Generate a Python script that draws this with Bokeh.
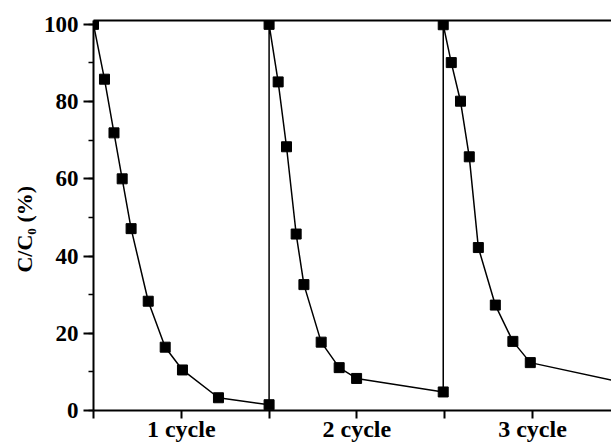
from bokeh.plotting import figure
from bokeh.models import Range1d, LinearAxis, FixedTicker, SingleIntervalTicker
from bokeh.embed import file_html
from bokeh.resources import INLINE

# time (min) and C/C0 (%) for each cycle
cycle1_t = [0, 7.5, 14, 19.6, 25.7, 37.4, 49, 60.8, 85.4, 120]
cycle1_c = [100, 85.8, 71.9, 60.0, 47.1, 28.3, 16.4, 10.5, 3.3, 1.5]
cycle2_t = [120, 126.2, 131.9, 138.5, 143.8, 155.6, 167.9, 179.8, 239]
cycle2_c = [100, 85.1, 68.3, 45.7, 32.6, 17.7, 11.1, 8.3, 4.8]
cycle3_t = [239, 244.5, 250.8, 256.8, 263, 274.6, 286.6, 298.5, 360]
cycle3_c = [99.9, 90.1, 80.1, 65.7, 42.2, 27.3, 17.9, 12.4, 7.4]

x_ticks = [0, 60, 120, 180, 240, 300]
x_tick_labels = {0: "", 60: "1 cycle", 120: "", 180: "2 cycle", 240: "", 300: "3 cycle"}
y_label = "C/C\u2080 (%)"

FONT = "Liberation Serif"

p = figure(width=611, height=444, output_backend="svg", toolbar_location=None,
           x_range=Range1d(0, 354), y_range=Range1d(0, 101),
           min_border_left=93, min_border_right=0, min_border_top=20, min_border_bottom=33)
p.outline_line_color = None
p.grid.visible = False
p.background_fill_color = "white"
p.border_fill_color = "white"

t_all = cycle1_t + cycle2_t + cycle3_t
c_all = cycle1_c + cycle2_c + cycle3_c
p.line(t_all, c_all, line_color="black", line_width=1.5)
p.scatter(t_all, c_all, marker="square", size=10, fill_color="black", line_color="black")

# x axis
xa = p.xaxis[0]
xa.ticker = FixedTicker(ticks=x_ticks)
xa.major_label_overrides = x_tick_labels
xa.axis_line_width = 2
xa.major_tick_line_width = 2
xa.major_tick_out = 8
xa.major_tick_in = 0
xa.minor_tick_line_color = None
xa.major_label_standoff = -3
xa.major_label_text_font = FONT
xa.major_label_text_font_style = "bold"
xa.major_label_text_font_size = "24px"
xa.major_label_text_color = "black"

# y axis
ya = p.yaxis[0]
ya.ticker = SingleIntervalTicker(interval=20, num_minor_ticks=2)
ya.axis_line_width = 2
ya.major_tick_line_width = 2
ya.minor_tick_line_width = 1.5
ya.major_tick_out = 10
ya.major_tick_in = 0
ya.minor_tick_out = 5
ya.minor_tick_in = 0
ya.major_label_standoff = 5
ya.major_label_text_font = FONT
ya.major_label_text_font_style = "bold"
ya.major_label_text_font_size = "23px"
ya.major_label_text_color = "black"
ya.axis_label = y_label + "\u00a0" * 5
ya.axis_label_text_font = FONT
ya.axis_label_text_font_style = "bold"
ya.axis_label_text_font_size = "22px"
ya.axis_label_text_color = "black"
ya.axis_label_standoff = 4

# top frame line
top = LinearAxis(ticker=FixedTicker(ticks=[]), axis_line_width=2,
                 major_tick_out=0, major_tick_in=0, minor_tick_out=0, minor_tick_in=0,
                 major_label_standoff=0)
p.add_layout(top, "above")

open("out.html", "w").write(file_html(p, INLINE))
